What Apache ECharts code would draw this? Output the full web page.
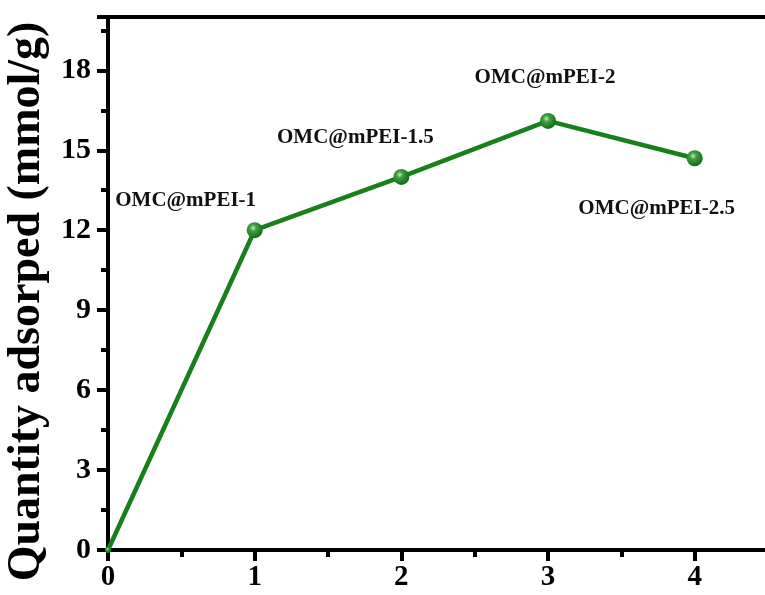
<!DOCTYPE html>
<html>
<head>
<meta charset="utf-8">
<script src="https://cdn.jsdelivr.net/npm/echarts@6/dist/echarts.min.js"></script>
<style>
  html, body { margin: 0; padding: 0; background: #fff; }
  #chart { width: 765px; height: 595px; }
</style>
</head>
<body>
<div id="chart"></div>
<script>
// PEI loading ratio vs. adsorbed quantity
const loadings = [0, 1, 2, 3, 4];
const adsorbed = [0, 12.0, 14.0, 16.1, 14.7];
const sampleNames = ['', 'OMC@mPEI-1', 'OMC@mPEI-1.5', 'OMC@mPEI-2', 'OMC@mPEI-2.5'];
const yTicks = [0, 3, 6, 9, 12, 15, 18];
const xTicks = [0, 1, 2, 3, 4];

// label placement relative to each marker
const labelOffsets = [null, [-69, -30], [-46, -39], [-3, -43], [-38, 50]];

const serif = '"Liberation Serif", "Times New Roman", serif';
const green = '#17801a';

const sphere = {
  type: 'radial', x: 0.4, y: 0.36, r: 0.65,
  colorStops: [
    { offset: 0, color: '#c4ecbc' },
    { offset: 0.3, color: '#44a044' },
    { offset: 1, color: '#0f6a12' }
  ]
};

const seriesData = loadings.map((x, i) => {
  const item = { value: [x, adsorbed[i]], name: sampleNames[i] };
  if (sampleNames[i]) {
    item.label = {
      show: true,
      position: 'inside',
      offset: labelOffsets[i],
      formatter: '{b}',
      fontFamily: serif,
      fontWeight: 'bold',
      fontSize: 21,
      color: '#111'
    };
  } else {
    item.symbolSize = 6;
  }
  return item;
});

const chart = echarts.init(document.getElementById('chart'), null, { renderer: 'canvas' });
chart.setOption({
  animation: false,
  backgroundColor: '#fff',
  grid: {
    left: 108, top: 17, width: 660, height: 533,
    containLabel: false,
    outerBoundsMode: 'none',
    show: true, borderColor: '#000', borderWidth: 4, backgroundColor: 'transparent'
  },
  xAxis: {
    type: 'value', min: 0, max: 4.5, interval: 1,
    axisLine: { show: true, lineStyle: { color: '#000', width: 4 } },
    axisTick: { show: true, inside: false, length: 11, lineStyle: { color: '#000', width: 4 } },
    minorTick: { show: true, splitNumber: 2, length: 7, lineStyle: { color: '#000', width: 4 } },
    splitLine: { show: false },
    axisLabel: {
      margin: 13, fontFamily: serif, fontWeight: 'bold', fontSize: 29, color: '#000',
      formatter: v => (xTicks.includes(v) ? String(v) : '')
    }
  },
  yAxis: {
    type: 'value', min: 0, max: 20, interval: 3,
    name: 'Quantity adsorped (mmol/g)',
    nameLocation: 'middle',
    nameGap: 56,
    nameTextStyle: {
      fontFamily: serif, fontWeight: 'bold', fontSize: 46, color: '#000',
      padding: [0, 36, 0, 0]
    },
    axisLine: { show: true, lineStyle: { color: '#000', width: 4 } },
    axisTick: { show: true, inside: false, length: 11, lineStyle: { color: '#000', width: 4 } },
    minorTick: { show: true, splitNumber: 2, length: 7, lineStyle: { color: '#000', width: 4 } },
    splitLine: { show: false },
    axisLabel: {
      margin: 17, fontFamily: serif, fontWeight: 'bold', fontSize: 30, color: '#000',
      formatter: v => (yTicks.includes(v) ? String(v) : '')
    }
  },
  series: [{
    type: 'line',
    data: seriesData,
    symbol: 'circle',
    symbolSize: 16,
    lineStyle: { color: green, width: 4.5 },
    itemStyle: { color: sphere, borderWidth: 0 },
    z: 3
  }]
});
</script>
</body>
</html>
